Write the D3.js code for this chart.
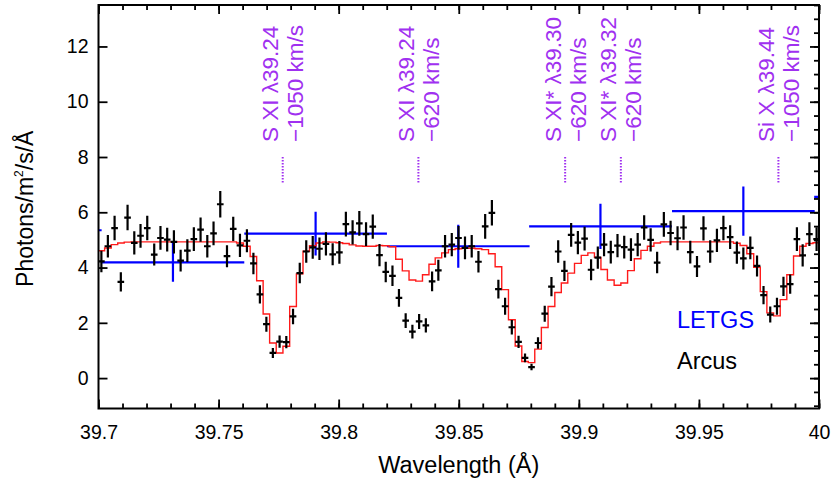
<!DOCTYPE html>
<html><head><meta charset="utf-8">
<script src="https://cdn.jsdelivr.net/npm/d3@7"></script>
<style>body{margin:0;background:#fff}svg{display:block}text{font-family:"Liberation Sans",Arial,Helvetica,sans-serif}</style>
</head><body><svg id="c" width="832" height="488"></svg>
<script>
// ---- data ----
const arcusWave = [39.7012,39.7039,39.7067,39.7093,39.7121,39.7149,39.7175,39.7203,39.7232,39.7258,
 39.7286,39.7314,39.7342,39.7370,39.7397,39.7425,39.7453,39.7479,39.7507,39.7535,
 39.7561,39.7589,39.7618,39.7645,39.7672,39.7699,39.7726,39.7754,39.7782,39.7810,
 39.7838,39.7865,39.7892,39.7920,39.7947,39.7975,39.8003,39.8030,39.8058,39.8086,
 39.8114,39.8142,39.8170,39.8196,39.8224,39.8251,39.8279,39.8307,39.8335,39.8363,
 39.8389,39.8415,39.8443,39.8471,39.8499,39.8526,39.8554,39.8582,39.8610,39.8638,
 39.8665,39.8693,39.8721,39.8749,39.8776,39.8803,39.8830,39.8858,39.8886,39.8914,
 39.8940,39.8968,39.8996,39.9024,39.9051,39.9079,39.9105,39.9133,39.9161,39.9189,
 39.9217,39.9245,39.9272,39.9299,39.9326,39.9354,39.9382,39.9411,39.9436,39.9464,
 39.9492,39.9519,39.9547,39.9575,39.9602,39.9630,39.9658,39.9685,39.9714,39.9742,
 39.9769,39.9797,39.9825,39.9852,39.9880,39.9908,39.9932,39.9960,39.9990];
const arcusFlux = [4.22,4.77,5.43,3.48,5.81,4.89,5.15,5.43,4.47,5.07,
 5.01,4.93,4.25,4.61,5.03,5.37,4.77,5.24,6.29,4.41,
 5.40,4.80,4.97,4.15,3.03,1.95,0.91,1.32,1.30,2.23,
 3.80,4.58,4.73,4.68,4.86,4.48,4.55,5.57,5.27,5.60,
 5.21,5.48,4.45,3.84,3.70,2.90,2.08,1.68,2.05,1.91,
 3.50,3.90,4.77,4.83,5.07,4.71,4.77,4.21,5.49,5.98,
 3.22,2.60,1.84,1.31,0.73,0.40,1.27,2.33,3.31,4.58,
 3.88,5.18,4.90,5.05,3.92,4.36,4.83,4.56,4.79,4.74,
 4.65,4.83,5.45,5.00,4.18,5.56,5.25,5.06,5.45,4.56,
 4.04,5.42,4.58,4.98,5.43,5.10,4.54,4.33,4.71,4.06,
 3.00,2.30,2.60,3.32,3.40,5.03,4.44,5.21,5.03];
const arcusErr = [0.39,0.41,0.44,0.35,0.46,0.42,0.43,0.44,0.40,0.43,
 0.43,0.42,0.39,0.41,0.43,0.44,0.41,0.43,0.48,0.40,
 0.44,0.42,0.42,0.39,0.33,0.27,0.18,0.22,0.22,0.28,
 0.37,0.41,0.41,0.41,0.42,0.40,0.41,0.45,0.44,0.45,
 0.43,0.44,0.40,0.37,0.37,0.32,0.27,0.25,0.27,0.26,
 0.36,0.38,0.41,0.42,0.43,0.41,0.41,0.39,0.45,0.46,
 0.34,0.31,0.26,0.22,0.16,0.12,0.21,0.29,0.35,0.41,
 0.37,0.43,0.42,0.43,0.38,0.40,0.42,0.41,0.42,0.41,
 0.41,0.42,0.44,0.42,0.39,0.45,0.44,0.43,0.44,0.41,
 0.38,0.44,0.41,0.42,0.44,0.43,0.40,0.40,0.41,0.38,
 0.33,0.29,0.31,0.35,0.35,0.43,0.40,0.43,0.43];
const arcusHalfBin = 0.00138;
const modelFlux = [4.61,4.71,4.83,4.89,4.92,4.93,4.93,4.93,4.93,4.93,
 4.93,4.93,4.93,4.93,4.93,4.93,4.93,4.93,4.93,4.93,
 4.93,4.89,4.77,4.40,3.52,2.32,1.27,0.91,1.15,2.59,
 3.77,4.59,4.79,4.89,4.93,4.92,4.90,4.87,4.82,4.78,
 4.77,4.77,4.80,4.79,4.75,4.30,3.88,3.55,3.51,3.74,
 4.12,4.35,4.53,4.65,4.68,4.70,4.70,4.68,4.65,4.50,
 4.03,3.20,2.11,1.16,0.60,0.56,1.05,1.83,2.59,3.10,
 3.44,3.80,4.15,4.44,4.53,4.37,3.93,3.55,3.36,3.44,
 3.89,4.32,4.62,4.77,4.89,4.93,4.93,4.93,4.93,4.93,
 4.93,4.93,4.93,4.93,4.93,4.93,4.88,4.80,4.50,4.01,
 3.13,2.36,2.25,2.84,3.74,4.42,4.77,4.87,4.90];

const letgsWave = [39.6716,39.7310,39.7904,39.8498,39.9090,39.9685,40.0277];
const letgsFlux = [5.35,4.19,5.23,4.77,5.49,6.04,6.56];
const letgsErr  = [0.75,0.70,0.79,0.78,0.82,0.89,0.95];
const letgsHalfBin = 0.0297;

const lineWave  = [39.7767,39.8332,39.8943,39.9175,39.9831];
const lineName  = ["S XI \u03BB39.24","S XI \u03BB39.24","S XI* \u03BB39.30","S XI* \u03BB39.32","Si X \u03BB39.44"];
const lineVel   = ["\u22121050 km/s","\u2212620 km/s","\u2212620 km/s","\u2212620 km/s","\u22121050 km/s"];

const xTicks = [39.7,39.75,39.8,39.85,39.9,39.95,40];
const xTickLabels = ["39.7","39.75","39.8","39.85","39.9","39.95","40"];
const yTicks = [0,2,4,6,8,10,12];
const yTickLabels = ["0","2","4","6","8","10","12"];

// ---- layout ----
const L=98.5, R=819, T=5, B=408.5;
const svg = d3.select("#c");
const x = d3.scaleLinear().domain([39.7,40]).range([L,R]);
const y = d3.scaleLinear().domain([-1.1,13.5]).range([B,T]);

svg.append("defs").append("clipPath").attr("id","clip")
  .append("rect").attr("x",L).attr("y",T).attr("width",R-L).attr("height",B-T);
const plot = svg.append("g").attr("clip-path","url(#clip)");

// LETGS
const letgs = letgsWave.map((w,i)=>({w,f:letgsFlux[i],e:letgsErr[i]}));
const lg = plot.append("g").attr("stroke","#0000ff").attr("stroke-width",2.2);
lg.selectAll("line.h").data(letgs).join("line").attr("class","h")
  .attr("x1",d=>x(d.w-letgsHalfBin)).attr("x2",d=>x(d.w+letgsHalfBin))
  .attr("y1",d=>y(d.f)).attr("y2",d=>y(d.f));
lg.selectAll("line.v").data(letgs).join("line").attr("class","v")
  .attr("x1",d=>x(d.w)).attr("x2",d=>x(d.w))
  .attr("y1",d=>y(d.f-d.e)).attr("y2",d=>y(d.f+d.e));

// model step line
const edges = arcusWave.map((w,i)=> i===0 ? w-(arcusWave[1]-w)/2 : (arcusWave[i-1]+w)/2);
const stepPts = edges.map((e,i)=>[e,modelFlux[i]]);
const lastW = arcusWave[arcusWave.length-1];
stepPts.push([lastW+(lastW-arcusWave[arcusWave.length-2])/2, modelFlux[modelFlux.length-1]]);
plot.append("path").datum(stepPts)
  .attr("fill","none").attr("stroke","#ff1a1a").attr("stroke-width",1.4)
  .attr("d", d3.line().x(d=>x(d[0])).y(d=>y(d[1])).curve(d3.curveStepAfter));

// Arcus data
const arc = arcusWave.map((w,i)=>({w,f:arcusFlux[i],e:arcusErr[i]}));
const ag = plot.append("g").attr("stroke","#000").attr("stroke-width",2.2);
ag.selectAll("line.v").data(arc).join("line").attr("class","v")
  .attr("x1",d=>x(d.w)).attr("x2",d=>x(d.w))
  .attr("y1",d=>y(d.f-d.e)).attr("y2",d=>y(d.f+d.e));
ag.selectAll("line.h").data(arc).join("line").attr("class","h")
  .attr("x1",d=>x(d.w-arcusHalfBin)).attr("x2",d=>x(d.w+arcusHalfBin))
  .attr("y1",d=>y(d.f)).attr("y2",d=>y(d.f));

// line identifications
const purple = "#a030f0";
const lab = svg.append("g");
lineWave.forEach((w,i)=>{
  const px = x(w);
  lab.append("line").attr("x1",px).attr("x2",px).attr("y1",157).attr("y2",184)
    .attr("stroke",purple).attr("stroke-width",2).attr("stroke-dasharray","1.5,1.5");
  lab.append("text").attr("transform",`translate(${px-4.5},142) rotate(-90)`)
    .attr("font-size",22.5).attr("fill",purple).text(lineName[i]);
  lab.append("text").attr("transform",`translate(${px+20.5},142) rotate(-90)`)
    .attr("font-size",22.5).attr("fill",purple).text(lineVel[i]);
});

// axes
function style(g){ g.select(".domain").remove(); g.selectAll("line").attr("stroke","#000").attr("stroke-width",1.8);
  g.selectAll("text").attr("font-family","Liberation Sans, Arial, sans-serif").attr("font-size",19.5).attr("fill","#000"); }
svg.append("g").attr("transform",`translate(0,${B})`)
  .call(d3.axisBottom(x).tickValues(x.ticks(30)).tickSize(-5).tickFormat("")).call(style);
svg.append("g").attr("transform",`translate(0,${B})`)
  .call(d3.axisBottom(x).tickValues(xTicks).tickSize(-9).tickPadding(17).tickFormat((d,i)=>xTickLabels[i])).call(style);
svg.append("g").attr("transform",`translate(0,${T})`)
  .call(d3.axisTop(x).tickValues(x.ticks(30)).tickSize(-5).tickFormat("")).call(style);
svg.append("g").attr("transform",`translate(0,${T})`)
  .call(d3.axisTop(x).tickValues(xTicks).tickSize(-9).tickFormat("")).call(style);
svg.append("g").attr("transform",`translate(${L},0)`)
  .call(d3.axisLeft(y).tickValues(yTicks).tickSize(-9).tickPadding(10).tickFormat((d,i)=>yTickLabels[i])).call(style);
svg.append("g").attr("transform",`translate(${R},0)`)
  .call(d3.axisRight(y).tickValues(y.ticks(30)).tickSize(-5).tickFormat("")).call(style);
svg.append("g").attr("transform",`translate(${R},0)`)
  .call(d3.axisRight(y).tickValues(yTicks).tickSize(-9).tickFormat("")).call(style);

svg.append("rect").attr("x",L).attr("y",T).attr("width",R-L).attr("height",B-T)
  .attr("fill","none").attr("stroke","#000").attr("stroke-width",2);

// titles
svg.append("text").attr("x",(L+R)/2).attr("y",473).attr("text-anchor","middle")
  .attr("font-size",23.5).text("Wavelength (\u00C5)");
const yt = svg.append("text").attr("transform",`translate(33,${(T+B)/2+2}) rotate(-90)`)
  .attr("text-anchor","middle").attr("font-size",23);
yt.append("tspan").text("Photons/m");
yt.append("tspan").attr("font-size",12).attr("dy",-10).text("2");
yt.append("tspan").attr("dy",10).text("/s/\u00C5");

// legend
svg.append("text").attr("x",677).attr("y",328).attr("font-size",23.5).attr("fill","#0000ff").text("LETGS");
svg.append("text").attr("x",677).attr("y",369).attr("font-size",23.5).attr("fill","#000").text("Arcus");
</script></body></html>
